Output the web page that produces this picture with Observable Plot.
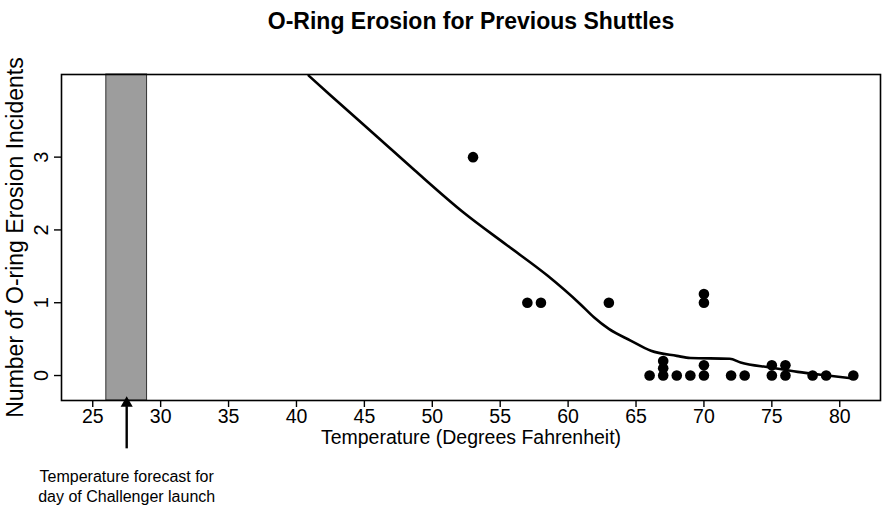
<!DOCTYPE html>
<html>
<head>
<meta charset="utf-8">
<script src="https://cdn.jsdelivr.net/npm/d3@7"></script>
<script src="https://cdn.jsdelivr.net/npm/@observablehq/plot@0.6"></script>
<style>
  html, body { margin: 0; padding: 0; background: white; }
</style>
</head>
<body>
<div id="chart"></div>
<script>
// ---- data ----
const temps     = [53, 57, 58, 63, 66, 67, 67, 67, 68, 69, 70, 70, 70, 70, 72, 73, 75, 75, 76, 76, 78, 79, 81];
const incidents = [3, 1, 1, 1, 0, 0, 0, 0, 0, 0, 0, 0, 1, 1, 0, 0, 0, 0, 0, 0, 0, 0, 0];
const jitter    = [0, 0, 0, 0, 0, 0, 0.1, 0.2, 0, 0, 0, 0.14, 0, 0.12, 0, 0, 0, 0.14, 0, 0.14, 0, 0, 0];

const smoothT = [40.9, 42.5, 46.0, 48.7, 52.3, 55.5, 58.5, 60.9, 61.9, 63.0, 64.6, 66.1, 68.0, 69.0, 71.9, 72.7, 74.9, 76.9, 79.1, 81.0];
const smoothV = [4.12, 3.85, 3.27, 2.82, 2.24, 1.79, 1.37, 0.98, 0.80, 0.64, 0.48, 0.34, 0.27, 0.24, 0.23, 0.18, 0.11, 0.05, 0.0, -0.04];

const xTicks = [25, 30, 35, 40, 45, 50, 55, 60, 65, 70, 75, 80];
const yTicks = [0, 1, 2, 3];

const forecastBand = [26, 29];
const forecastTemp = 27.5;
const arrowSpan = [-1.0, -0.36];

const titleText = "O-Ring Erosion for Previous Shuttles";
const xLabel = "Temperature (Degrees Fahrenheit)";
const yLabel = "Number of O-ring Erosion Incidents";
const noteLines = ["Temperature forecast for", "day of Challenger launch"];

// ---- tables ----
const points = temps.map((t, i) => ({t, v: incidents[i] + jitter[i]}));
const smooth = smoothT.map((t, i) => ({t, v: smoothV[i]}));

const sans = "'Liberation Sans', Arial, Helvetica, sans-serif";

const chart = Plot.plot({
  width: 883,
  height: 511,
  marginLeft: 61,
  marginRight: 3,
  marginTop: 74,
  marginBottom: 111,
  x: {domain: [22.7, 83.0]},
  y: {domain: [-0.343, 4.135]},
  style: {fontFamily: sans, background: "white", color: "black", overflow: "visible"},
  marks: [
    Plot.rect([forecastBand], {x1: d => d[0], x2: d => d[1], fill: "#9d9d9d", stroke: "#333", strokeWidth: 1}),
    Plot.frame({stroke: "black", strokeWidth: 1.6}),
    Plot.axisX({ticks: xTicks, tickSize: 7, tickPadding: 2, fontSize: 19.5, tickFormat: d => String(d), label: null, strokeWidth: 1.4}),
    Plot.axisY({ticks: yTicks, tickSize: 7, tickFormat: () => "", label: null, strokeWidth: 1.4}),
    Plot.text(yTicks, {y: d => d, text: d => String(d), frameAnchor: "left", dx: -20, rotate: -90, fontSize: 20, textAnchor: "middle", lineAnchor: "middle"}),
    Plot.line(smooth, {x: "t", y: "v", stroke: "black", strokeWidth: 2.6, curve: "monotone-x", clip: true}),
    Plot.dot(points, {x: "t", y: "v", r: 5.3, fill: "black", stroke: "none"}),
    // annotation arrow
    Plot.link([forecastTemp], {x1: d => d, x2: d => d, y1: arrowSpan[0], y2: arrowSpan[1] - 0.06, stroke: "black", strokeWidth: 2.4}),
    Plot.dot([forecastTemp], {x: d => d, y: arrowSpan[1] - 0.02, symbol: "triangle", r: 4.5, fill: "black", stroke: "none"}),
    // texts
    Plot.text([titleText], {frameAnchor: "top", dy: -53, lineAnchor: "middle", fontWeight: "bold", fontSize: 23}),
    Plot.text([xLabel], {frameAnchor: "bottom", dy: 37, lineAnchor: "middle", fontSize: 19.5}),
    Plot.text([yLabel], {frameAnchor: "left", dx: -46, rotate: -90, fontSize: 23, textAnchor: "middle", lineAnchor: "middle"}),
    Plot.text([noteLines.join("\n")], {x: forecastTemp, y: arrowSpan[0], dy: 37, lineAnchor: "middle", fontSize: 16, lineHeight: 1.3})
  ]
});
document.getElementById("chart").appendChild(chart);
</script>
</body>
</html>
